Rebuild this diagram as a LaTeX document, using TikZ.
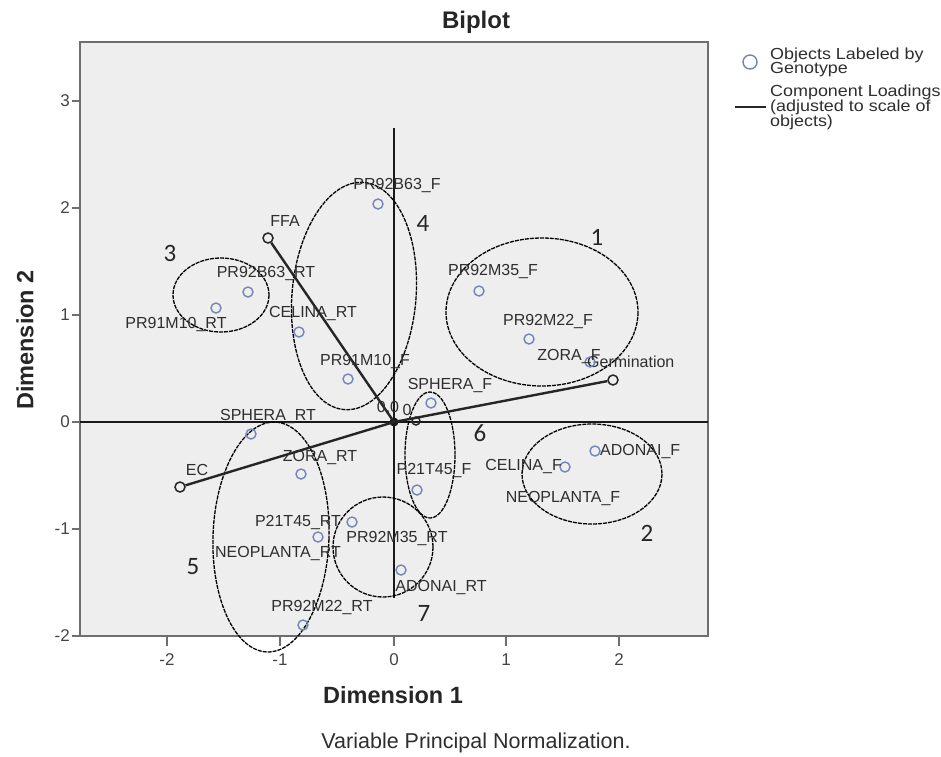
\documentclass[tikz,border=0pt]{standalone}
\usepackage{fontspec}
\setmainfont{Liberation Sans}
\newfontfamily\numfont{Carlito}
\newfontfamily\legfont[FakeStretch=1.12]{Liberation Sans}
\definecolor{plotbg}{HTML}{EEEEEE}
\definecolor{framegray}{HTML}{6E6E6E}
\definecolor{objblue}{HTML}{7486B8}
\definecolor{lblgray}{HTML}{2E2E2E}
\definecolor{tickgray}{HTML}{444444}
\tikzset{
  obj/.style={circle, draw=objblue, line width=1.4pt, minimum size=10pt, inner sep=0pt},
  lbl/.style={font=\fontsize{16}{18}\selectfont, text=lblgray, inner sep=0pt},
  ldend/.style={circle, draw=black!85, line width=1.5pt, minimum size=10pt, inner sep=0pt},
  load/.style={line width=2.4pt, draw=black!85},
  grp/.style={draw=black, line width=1.3pt, dash pattern=on 4pt off 1pt},
  gnum/.style={font=\numfont\fontsize{25}{25}\selectfont, text=black!85, inner sep=0pt},
  tickmark/.style={draw=framegray, line width=1.6pt},
  ticklbl/.style={font=\fontsize{17}{17}\selectfont, text=tickgray, inner sep=0pt},
  cross/.style={draw=black!90, line width=1.5pt},
  leg/.style={font=\legfont\fontsize{16}{15}\selectfont, text=lblgray, inner sep=0pt, anchor=west}
}
\begin{document}
\begin{tikzpicture}[x=1pt,y=-1pt]
\useasboundingbox (0,0) rectangle (941,756);
% plot frame
\draw[fill=plotbg, draw=framegray, line width=2.5pt] (80,42) rectangle (708,636);
% ticks
\foreach \yy/\t in {101/3,208/2,315/1,422/0,529/-1,636/-2}{
  \draw[tickmark] (72,\yy) -- (80,\yy);
  \node[ticklbl, anchor=east] at (70,\yy) {\t};
}
\foreach \xx/\t in {167/-2,280/-1,394/0,506/1,619/2}{
  \draw[tickmark] (\xx,636) -- (\xx,646);
  \node[ticklbl] at (\xx,660) {\t};
}
% crosshair
\coordinate (hl) at (80,422);
\coordinate (hr) at (708,422);
\coordinate (vt) at (394,128);
\coordinate (vb) at (394,598);
\draw[cross] (hl) -- (hr);
\draw[cross] (vt) -- (vb);
% group ellipses
\draw[grp] (542,312) ellipse [x radius=96, y radius=74];
\draw[grp] (592,474) ellipse [x radius=70, y radius=50];
\draw[grp] (221,295) ellipse [x radius=48, y radius=37];
\draw[grp, rotate around={-5:(354,296)}] (354,296) ellipse [x radius=62, y radius=114];
\draw[grp, rotate around={-2:(271,537)}] (271,537) ellipse [x radius=58, y radius=115];
\draw[grp] (430,455) ellipse [x radius=25, y radius=63];
\draw[grp] (383,547) ellipse [x radius=50, y radius=50];
% group numbers
\node[gnum] (g1) at (597,237) {1};
\node[gnum] (g2) at (647,533) {2};
\node[gnum] (g3) at (170,253) {3};
\node[gnum] (g4) at (423,223) {4};
\node[gnum] (g5) at (193,567) {5};
\node[gnum] (g6) at (480,433) {6};
\node[gnum] (g7) at (424,613) {7};
% component loadings
\node[circle, fill=black!90, minimum size=9pt, inner sep=0pt] (o) at (394,422) {};
\node[ldend] (ffa) at (268,238) {};
\node[ldend] (germ) at (613,380) {};
\node[ldend] (ec) at (180,487) {};
\node[ldend, minimum size=8pt] (small) at (416,421) {};
\draw[load] (o.center) -- (ffa);
\draw[load] (o.center) -- (germ);
\draw[load] (o.center) -- (ec);
\node[lbl] (lffa) at (285,221) {FFA};
\node[lbl, anchor=west] (lgerm) at (587,362) {Germination};
\node[lbl] (lec) at (197,470) {EC};
\node[lbl] (l00) at (388,407) {0.0};
\node[lbl] (l0) at (407,410) {0};
% objects
\node[obj] (pB63F) at (378,204) {};
\node[obj] (pM35F) at (479,291) {};
\node[obj] (pM22F) at (529,339) {};
\node[obj] (zoraF) at (590,362) {};
\node[obj] (sphF) at (431,403) {};
\node[obj] (p21F) at (417,490) {};
\node[obj] (celF) at (565,467) {};
\node[obj] (adoF) at (595,451) {};
\node[obj] (pB63RT) at (248,292) {};
\node[obj] (pM10RT) at (216,308) {};
\node[obj] (celRT) at (299,332) {};
\node[obj] (pM10F) at (348,379) {};
\node[obj] (sphRT) at (251,434) {};
\node[obj] (zoraRT) at (301,474) {};
\node[obj] (pM35RT) at (352,522) {};
\node[obj] (p21RT) at (318,537) {};
\node[obj] (adoRT) at (401,570) {};
\node[obj] (pM22RT) at (303,625) {};
% object labels
\node[lbl] (tB63F) at (397,185) {PR92B63\_F};
\node[lbl] (tM35F) at (493,271) {PR92M35\_F};
\node[lbl] (tM22F) at (548,321) {PR92M22\_F};
\node[lbl] (tzoraF) at (569,356) {ZORA\_F};
\node[lbl] (tsphF) at (450,385) {SPHERA\_F};
\node[lbl] (tp21F) at (434,470) {P21T45\_F};
\node[lbl, anchor=east] (tcelF) at (562,466) {CELINA\_F};
\node[lbl, anchor=west] (tadoF) at (600,451) {ADONAI\_F};
\node[lbl] (tneoF) at (563,498) {NEOPLANTA\_F};
\node[lbl] (tB63RT) at (266,273) {PR92B63\_RT};
\node[lbl] (tM10RT) at (176,324) {PR91M10\_RT};
\node[lbl] (tcelRT) at (313,313) {CELINA\_RT};
\node[lbl] (tM10F) at (365,361) {PR91M10\_F};
\node[lbl] (tsphRT) at (268,416) {SPHERA\_RT};
\node[lbl] (tzoraRT) at (320,457) {ZORA\_RT};
\node[lbl] (tp21RT) at (298,522) {P21T45\_RT};
\node[lbl] (tM35RT) at (397,538) {PR92M35\_RT};
\node[lbl] (tneoRT) at (278,553) {NEOPLANTA\_RT};
\node[lbl] (tadoRT) at (441,587) {ADONAI\_RT};
\node[lbl] (tM22RT) at (322,607) {PR92M22\_RT};
% titles
\node[font=\bfseries\fontsize{24}{24}\selectfont, text=black!85] (title) at (476,22) {Biplot};
\node[font=\bfseries\fontsize{23.5}{24}\selectfont, text=black!85] (xlab) at (393,695) {Dimension 1};
\node[font=\bfseries\fontsize{23.5}{24}\selectfont, text=black!85, rotate=90] (ylab) at (25,340) {Dimension 2};
\node[font=\fontsize{21.5}{22}\selectfont, text=lblgray] (note) at (476,743) {Variable Principal Normalization.};
% legend
\node[circle, draw=objblue!80!gray, line width=1.4pt, minimum size=14pt, inner sep=0pt] (legc) at (750,62) {};
\node[leg] (legt1) at (770,55) {Objects Labeled by};
\node[leg] (legt2) at (770,70) {Genotype};
\node[leg] (legt3) at (770,92) {Component Loadings};
\node[leg] (legt4) at (770,107) {(adjusted to scale of};
\node[leg] (legt5) at (770,122) {objects)};
\coordinate (legl1) at (735,107);
\coordinate (legl2) at (766,107);
\draw[line width=2pt, draw=black!85] (legl1) -- (legl2);
\end{tikzpicture}
\end{document}
